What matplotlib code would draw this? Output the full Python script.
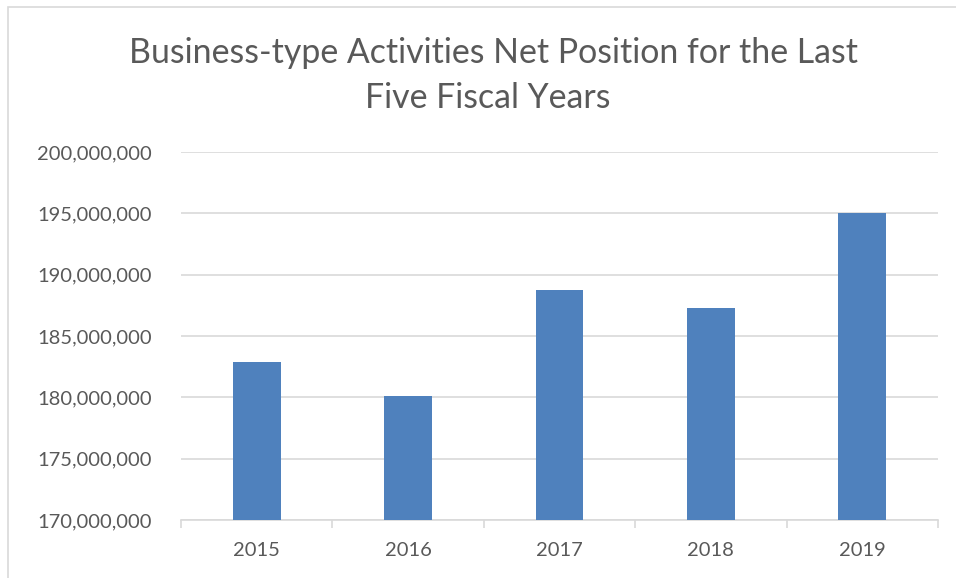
import matplotlib.pyplot as plt
from matplotlib.patches import Rectangle
from matplotlib.ticker import FuncFormatter

# Werte
years = ['2015', '2016', '2017', '2018', '2019']
net_position = [182880000, 180080000, 188750000, 187280000, 195050000]

plt.rcParams['font.family'] = ['Lato', 'DejaVu Sans']
text_color = '#595959'
grid_color = '#d9d9d9'

W, H = 956, 578
fig = plt.figure(figsize=(W / 100, H / 100), dpi=100)

# Rahmen des Diagrammbereichs (nur links und oben sichtbar)
fig.patches.append(Rectangle((7.5 / W, -0.1), 1.2, 1.1 - 7.5 / H,
                             transform=fig.transFigure, fill=False,
                             edgecolor=grid_color, linewidth=1.2))

ax = fig.add_axes([181 / W, 58 / H, (938 - 181) / W, (520 - 152) / H])
x = list(range(len(years)))
ax.bar(x, net_position, width=0.317, color='#4f81bd', zorder=3)

ax.set_xlim(-0.5, len(years) - 0.5)
ax.set_ylim(170000000, 200000000)
ax.set_yticks(range(170000000, 200000001, 5000000))
ax.yaxis.set_major_formatter(FuncFormatter(lambda v, p: f'{int(v):,}'))
ax.set_xticks(x)
ax.set_xticklabels(years)
ax.set_xticks([i - 0.5 for i in range(len(years) + 1)], minor=True)

ax.grid(axis='y', color=grid_color, linewidth=1.2, zorder=0)
for s in ['top', 'right', 'left']:
    ax.spines[s].set_visible(False)
ax.spines['bottom'].set_color(grid_color)
ax.spines['bottom'].set_linewidth(1.2)

ax.tick_params(axis='y', length=0, pad=21, labelsize=14.5, labelcolor=text_color)
ax.tick_params(axis='x', which='major', length=0, pad=16, labelsize=14.5, labelcolor=text_color)
ax.tick_params(axis='x', which='minor', length=5.5, width=1.2, color=grid_color)

fig.text(493 / W, 1 - 63 / H, 'Business-type Activities Net Position for the Last',
         ha='center', va='baseline', fontsize=24.4, color=text_color)
fig.text(488 / W, 1 - 108 / H, 'Five Fiscal Years',
         ha='center', va='baseline', fontsize=24.4, color=text_color)

fig.savefig('out.png', dpi=100)
